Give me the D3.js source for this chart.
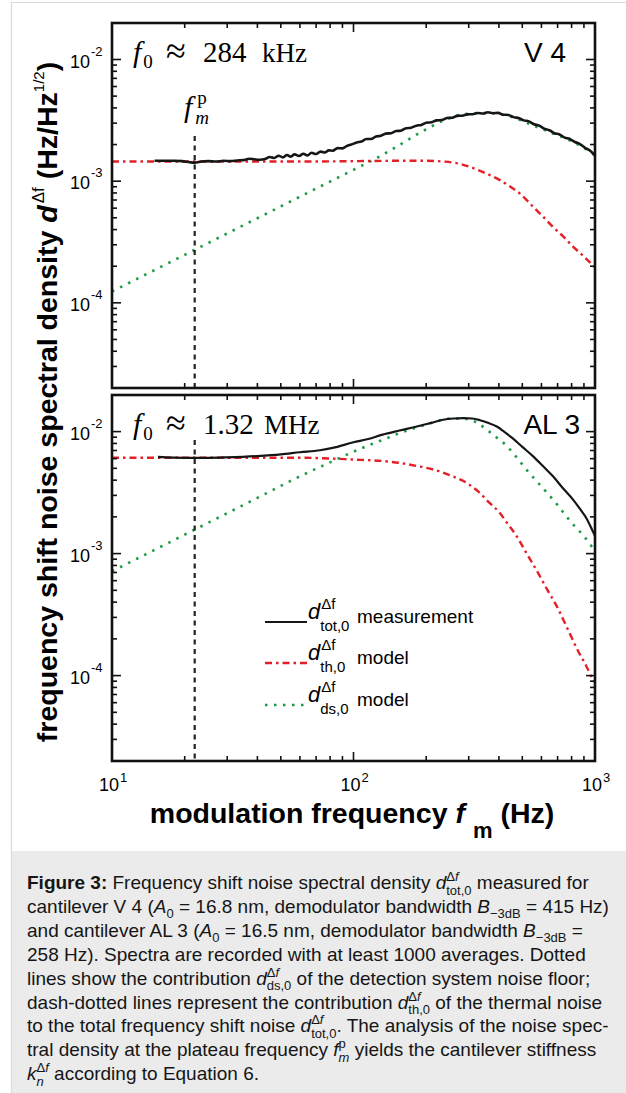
<!DOCTYPE html>
<html>
<head>
<meta charset="utf-8">
<script src="https://cdn.jsdelivr.net/npm/d3@7"></script>
<style>
  body { margin: 0; background: #fff; }
  svg { display: block; }
  text { white-space: pre; }
</style>
</head>
<body>
<svg width="626" height="1093"></svg>
<script>
// x axis: modulation frequency (Hz), y axis: noise density (Hz/Hz^1/2)
const xMajor = [10, 100, 1000]
const xMajorLabels = ['1', '2', '3']
const yMajor = [1e-4, 1e-3, 1e-2]
const yMajorLabels = ['-4', '-3', '-2']
const plateauFreq = 22

// cantilever V 4
const v4MeasFreq = [15, 16.5, 18, 19.5, 21, 22, 23.5, 25, 27, 29, 31, 33, 35, 37, 39, 41, 43, 45, 47, 49, 51, 53, 55, 57, 59.5, 62, 64.5, 67, 70, 73, 76, 79, 82, 86, 90, 94, 98, 103, 108, 113, 118, 124, 130, 136, 143, 150, 157, 165, 173, 182, 191, 200, 210, 221, 232, 244, 256, 269, 282, 296, 311, 327, 343, 360, 378, 397, 417, 438, 460, 483, 507, 532, 559, 587, 616, 647, 679, 713, 749, 786, 825, 866, 909, 955, 1000]
const v4MeasVal = [1.47e-3, 1.47e-3, 1.47e-3, 1.46e-3, 1.43e-3, 1.42e-3, 1.45e-3, 1.46e-3, 1.45e-3, 1.47e-3, 1.46e-3, 1.48e-3, 1.49e-3, 1.53e-3, 1.51e-3, 1.50e-3, 1.52e-3, 1.58e-3, 1.55e-3, 1.62e-3, 1.57e-3, 1.64e-3, 1.59e-3, 1.66e-3, 1.61e-3, 1.68e-3, 1.63e-3, 1.71e-3, 1.67e-3, 1.75e-3, 1.72e-3, 1.79e-3, 1.78e-3, 1.87e-3, 1.86e-3, 1.95e-3, 2.00e-3, 2.08e-3, 2.12e-3, 2.22e-3, 2.22e-3, 2.33e-3, 2.36e-3, 2.46e-3, 2.48e-3, 2.58e-3, 2.60e-3, 2.72e-3, 2.75e-3, 2.86e-3, 2.90e-3, 3.02e-3, 3.05e-3, 3.16e-3, 3.18e-3, 3.30e-3, 3.32e-3, 3.44e-3, 3.45e-3, 3.54e-3, 3.55e-3, 3.63e-3, 3.60e-3, 3.68e-3, 3.62e-3, 3.64e-3, 3.52e-3, 3.50e-3, 3.36e-3, 3.30e-3, 3.16e-3, 3.10e-3, 2.94e-3, 2.86e-3, 2.70e-3, 2.62e-3, 2.48e-3, 2.42e-3, 2.28e-3, 2.22e-3, 2.10e-3, 2.02e-3, 1.88e-3, 1.78e-3, 1.62e-3]
const v4ThFreq = [10, 30, 60, 100, 150, 200, 235, 270, 303, 350, 404, 450, 489, 553, 610, 670, 740, 811, 900, 1000]
const v4ThVal = [1.45e-3, 1.45e-3, 1.45e-3, 1.46e-3, 1.47e-3, 1.47e-3, 1.45e-3, 1.40e-3, 1.31e-3, 1.17e-3, 1.02e-3, 8.9e-4, 7.9e-4, 6.2e-4, 5.1e-4, 4.2e-4, 3.5e-4, 2.9e-4, 2.4e-4, 1.95e-4]
const v4DsFreq = [10, 20, 40, 70, 100, 130, 156, 185, 214, 240, 267, 300, 334, 370, 404, 440, 474, 510, 553, 610, 670, 740, 811, 900, 980, 1000]
const v4DsVal = [1.24e-4, 2.48e-4, 4.96e-4, 8.7e-4, 1.24e-3, 1.62e-3, 2.0e-3, 2.45e-3, 2.87e-3, 3.2e-3, 3.45e-3, 3.58e-3, 3.63e-3, 3.62e-3, 3.55e-3, 3.42e-3, 3.27e-3, 3.08e-3, 2.87e-3, 2.66e-3, 2.46e-3, 2.28e-3, 2.10e-3, 1.88e-3, 1.68e-3, 1.62e-3]

// cantilever AL 3
const al3MeasFreq = [15.5, 20, 25, 30, 40, 50, 60, 72.6, 82, 100, 115, 132, 155, 183, 210, 235, 260, 285, 310, 334, 360, 392, 420, 454, 500, 553, 610, 670, 740, 811, 870, 920, 980, 1000]
const al3MeasVal = [6.2e-3, 6.1e-3, 6.1e-3, 6.15e-3, 6.3e-3, 6.5e-3, 6.77e-3, 7.03e-3, 7.35e-3, 8.18e-3, 8.7e-3, 9.45e-3, 1.02e-2, 1.1e-2, 1.18e-2, 1.25e-2, 1.28e-2, 1.29e-2, 1.28e-2, 1.24e-2, 1.18e-2, 1.1e-2, 1.0e-2, 8.87e-3, 7.5e-3, 6.3e-3, 5.2e-3, 4.3e-3, 3.4e-3, 2.77e-3, 2.3e-3, 1.96e-3, 1.52e-3, 1.4e-3]
const al3ThFreq = [10, 30, 60, 100, 130, 156, 185, 214, 250, 294, 330, 366, 400, 432, 475, 520, 575, 634, 700, 761, 850, 920, 980, 1000]
const al3ThVal = [6.1e-3, 6.1e-3, 6.1e-3, 5.9e-3, 5.75e-3, 5.53e-3, 5.2e-3, 4.89e-3, 4.4e-3, 3.8e-3, 3.2e-3, 2.6e-3, 2.2e-3, 1.79e-3, 1.38e-3, 1.01e-3, 7.2e-4, 5.07e-4, 3.6e-4, 2.54e-4, 1.6e-4, 1.2e-4, 9.3e-5, 8.8e-5]
const al3DsFreq = [10, 20, 40, 60, 80, 91, 113, 135, 156, 185, 214, 251, 294, 325, 356, 390, 432, 475, 520, 575, 634, 700, 761, 830, 900, 980, 1000]
const al3DsVal = [7.16e-4, 1.43e-3, 2.86e-3, 4.3e-3, 5.6e-3, 6.3e-3, 7.58e-3, 8.7e-3, 9.76e-3, 1.09e-2, 1.19e-2, 1.28e-2, 1.27e-2, 1.18e-2, 1.04e-2, 9.0e-3, 7.6e-3, 6.1e-3, 4.88e-3, 3.9e-3, 3.14e-3, 2.5e-3, 2.02e-3, 1.65e-3, 1.39e-3, 1.11e-3, 1.05e-3]

const sans = 'Liberation Sans, Arial, Helvetica, sans-serif'
const serif = 'Liberation Serif, Times New Roman, serif'
const colMeas = '#161616'
const colTh = '#e41f26'
const colDs = '#1e9a47'
const dashTh = '7,4,2.5,4'
const dashDs = '2.5,6.5'

const svg = d3.select('svg')
const W = +svg.attr('width')
const H = +svg.attr('height')

svg.append('rect').attr('width', W).attr('height', H).attr('fill', '#fff')
svg.append('rect').attr('x', 11).attr('y', 851).attr('width', W - 11).attr('height', H - 851).attr('fill', '#ebebeb')
svg.append('path').attr('d', `M11.5,${H} V2.5 H${W}`).attr('fill', 'none').attr('stroke', '#dadada').attr('stroke-width', 1.2)

// rich text: parts placed one after another, sup/sub stacked
function rich(parent, x, y, parts, base) {
  const g = parent.append('g')
  let cx = x, anchor = x, supEnd = x, prev = null, stacked = false
  parts.forEach(p => {
    if (p.pos === 'sup' && prev !== 'sup') anchor = cx
    if (p.pos === 'sub' && prev === 'sup') { supEnd = cx; cx = anchor; stacked = true }
    if (p.pos !== 'sub' && stacked) { cx = Math.max(cx, supEnd); stacked = false }
    cx += p.dx || 0
    if (p.ax !== undefined) cx = p.ax
    const size = p.size || (p.pos ? base.small : base.size)
    const dy = p.pos === 'sup' ? -base.up : p.pos === 'sub' ? base.down : 0
    const t = g.append('text')
      .attr('x', cx).attr('y', y + dy + (p.dy || 0))
      .attr('font-family', p.family || base.family)
      .attr('font-size', size)
      .attr('font-weight', p.bold ? 'bold' : 'normal')
      .attr('font-style', p.italic ? 'italic' : 'normal')
      .attr('fill', base.fill || '#000')
      .text(p.t)
    cx += t.node().getComputedTextLength()
    prev = p.pos || null
  })
  if (stacked) cx = Math.max(cx, supEnd)
  g.width = cx - x
  return g
}
const N = t => ({ t })
const B = t => ({ t, bold: true })
const I = t => ({ t, italic: true })
const sup = (t, o) => Object.assign({ t, pos: 'sup' }, o)
const sub = (t, o) => Object.assign({ t, pos: 'sub' }, o)

const x = d3.scaleLog().domain([10, 1000]).range([112, 595])

const panels = [
  { top: 23, bottom: 388, meas: [v4MeasFreq, v4MeasVal], th: [v4ThFreq, v4ThVal], ds: [v4DsFreq, v4DsVal],
    f0: '284', f0unit: 'kHz', unitX: 262, name: 'V 4', nameX: 566, vTop: 136 },
  { top: 395, bottom: 761, meas: [al3MeasFreq, al3MeasVal], th: [al3ThFreq, al3ThVal], ds: [al3DsFreq, al3DsVal],
    f0: '1.32', f0unit: 'MHz', unitX: 264, name: 'AL 3', nameX: 580, vTop: 440 }
]

panels.forEach((p, pi) => {
  const y = d3.scaleLog().domain([10 ** -4.7, 10 ** -1.7]).range([p.bottom, p.top])
  const g = svg.append('g')
  const clipId = 'clip' + pi
  g.append('clipPath').attr('id', clipId).append('rect')
    .attr('x', 112).attr('y', p.top).attr('width', 595 - 112).attr('height', p.bottom - p.top)

  const line = d3.line().x(d => x(d[0])).y(d => y(d[1])).curve(d3.curveMonotoneX)
  const zip = s => s[0].map((f, i) => [f, s[1][i]])
  const plot = g.append('g').attr('clip-path', `url(#${clipId})`)

  plot.append('path').attr('d', line(zip(p.ds))).attr('fill', 'none')
    .attr('stroke', colDs).attr('stroke-width', 2.6).attr('stroke-dasharray', dashDs)
  plot.append('path').attr('d', line(zip(p.th))).attr('fill', 'none')
    .attr('stroke', colTh).attr('stroke-width', 2.4).attr('stroke-dasharray', dashTh)
  plot.append('path').attr('d', line(zip(p.meas))).attr('fill', 'none')
    .attr('stroke', colMeas).attr('stroke-width', pi === 0 ? 2.6 : 2.2).attr('stroke-linejoin', 'round')

  // plateau frequency marker
  g.append('line').attr('x1', x(plateauFreq)).attr('x2', x(plateauFreq))
    .attr('y1', p.vTop).attr('y2', p.bottom)
    .attr('stroke', '#222').attr('stroke-width', 2.2).attr('stroke-dasharray', '5,4.5')

  // ticks inward on all four sides
  const xTicks = []
  const yTicks = []
  for (let e = 1; e <= 3; e++) for (let k = 1; k <= 9; k++) {
    const v = k * 10 ** e
    if (v >= 10 && v <= 1000) xTicks.push([v, k === 1])
  }
  for (let e = -5; e <= -1; e++) for (let k = 1; k <= 9; k++) {
    const v = k * 10 ** e
    if (y(v) >= p.top && y(v) <= p.bottom) yTicks.push([v, k === 1])
  }
  const tk = g.append('g').attr('stroke', '#111').attr('stroke-width', 1.6)
  xTicks.forEach(([v, major]) => {
    const L = major ? 9 : 5
    tk.append('line').attr('x1', x(v)).attr('x2', x(v)).attr('y1', p.bottom).attr('y2', p.bottom - L)
    tk.append('line').attr('x1', x(v)).attr('x2', x(v)).attr('y1', p.top).attr('y2', p.top + L)
  })
  yTicks.forEach(([v, major]) => {
    const L = major ? 9 : 5
    tk.append('line').attr('x1', 112).attr('x2', 112 + L).attr('y1', y(v)).attr('y2', y(v))
    tk.append('line').attr('x1', 595).attr('x2', 595 - L).attr('y1', y(v)).attr('y2', y(v))
  })

  g.append('rect').attr('x', 112).attr('y', p.top).attr('width', 595 - 112).attr('height', p.bottom - p.top)
    .attr('fill', 'none').attr('stroke', '#111').attr('stroke-width', 2.6)

  // y tick labels
  yMajor.forEach((v, i) => {
    g.append('text').attr('x', 90).attr('y', y(v) + 8).attr('text-anchor', 'end')
      .attr('font-family', sans).attr('font-size', 18).text('10')
    g.append('text').attr('x', 91).attr('y', y(v) - 4)
      .attr('font-family', sans).attr('font-size', 13).text(yMajorLabels[i])
  })

  // f0 annotation
  const fb = { family: serif, size: 29, small: 19, up: 12, down: 6 }
  rich(g, 133, p.top + 39, [
    { t: 'f', italic: true, size: 30 },
    sub('0', { dx: 2 }),
    { t: '≈', ax: 166, size: 36, dy: 1 },
    { t: p.f0, ax: 203 },
    { t: p.f0unit, ax: p.unitX, size: 27 }
  ], fb)

  g.append('text').attr('x', p.nameX).attr('y', p.top + 39).attr('text-anchor', 'end')
    .attr('font-family', sans).attr('font-size', 28).text(p.name)

  if (pi === 0) {
    rich(g, 184, 117, [
      { t: 'f', italic: true },
      sup('p', { dx: 5 }),
      sub('m', { italic: true, dx: 3 })
    ], { family: serif, size: 30, small: 19, up: 13, down: 7 })
  } else {
    // x tick labels
    xMajor.forEach((v, i) => {
      g.append('text').attr('x', x(v) - 3).attr('y', 791).attr('text-anchor', 'middle')
        .attr('font-family', sans).attr('font-size', 18).text('10')
      g.append('text').attr('x', x(v) + 8).attr('y', 782)
        .attr('font-family', sans).attr('font-size', 13).text(xMajorLabels[i])
    })

    // legend
    const legend = [
      { color: colMeas, dash: null, sub: 'tot,0', label: 'measurement', y: 622, lx: 357 },
      { color: colTh, dash: dashTh, sub: 'th,0', label: 'model', y: 663, lx: 352 },
      { color: colDs, dash: dashDs, sub: 'ds,0', label: 'model', y: 705, lx: 354 }
    ]
    legend.forEach(l => {
      g.append('line').attr('x1', 265).attr('x2', 307).attr('y1', l.y).attr('y2', l.y)
        .attr('stroke', l.color).attr('stroke-width', l.dash ? 2.4 : 2.2)
        .attr('stroke-dasharray', l.dash)
      rich(g, 308, l.y - 3, [
        { t: 'd', italic: true },
        sup('Δf', { dx: 1 }),
        sub(l.sub, { dx: 0 }),
        { t: l.label, ax: Math.max(l.lx, 357), dy: 4, size: 19 }
      ], { family: sans, size: 22, small: 15, up: 10, down: 12 })
    })
  }
})

// axis titles
const yt = svg.append('g').attr('transform', 'translate(57,402) rotate(-90)')
const ytText = rich(yt, 0, 0, [
  B('frequency shift noise spectral density '),
  { t: 'd', bold: true, italic: true },
  sup('Δf', { dx: 2 }),
  B(' (Hz/Hz'),
  sup('1/2', { size: 15 }),
  B(')')
], { family: sans, size: 28.5, small: 17, up: 13, down: 6 })
ytText.attr('transform', `translate(${-ytText.width / 2},0)`)

const xt = svg.append('g')
const xtText = rich(xt, 0, 823, [
  B('modulation frequency '),
  { t: 'f', bold: true, italic: true },
  sub('m', { bold: true, dx: 8, size: 22 }),
  B(' (Hz)')
], { family: sans, size: 28.5, small: 18, up: 12, down: 15 })
xtText.attr('transform', `translate(${352 - xtText.width / 2},0)`)

// caption
const cap = svg.append('g')
const capBase = { family: sans, size: 19, small: 13, up: 8, down: 5.5, fill: '#151515' }
const dSym = s => [I('d'), sup('Δ'), sup('f', { italic: true }), sub(s)]
const captionLines = [
  [B('Figure 3:'), N(' Frequency shift noise spectral density '), ...dSym('tot,0'), N(' measured for')],
  [N('cantilever V 4 ('), I('A'), sub('0'), N(' = 16.8 nm, demodulator bandwidth '), I('B'), sub('−3dB'), N(' = 415 Hz)')],
  [N('and cantilever AL 3 ('), I('A'), sub('0'), N(' = 16.5 nm, demodulator bandwidth '), I('B'), sub('−3dB'), N(' =')],
  [N('258 Hz). Spectra are recorded with at least 1000 averages. Dotted')],
  [N('lines show the contribution '), ...dSym('ds,0'), N(' of the detection system noise floor;')],
  [N('dash-dotted lines represent the contribution '), ...dSym('th,0'), N(' of the thermal noise')],
  [N('to the total frequency shift noise '), ...dSym('tot,0'), N('. The analysis of the noise spec-')],
  [N('tral density at the plateau frequency '), I('f'), sup('p'), sub('m', { italic: true }), N(' yields the cantilever stiffness')],
  [I('k'), sup('Δ'), sup('f', { italic: true }), sub('n', { italic: true }), N(' according to Equation 6.')]
]
captionLines.forEach((parts, i) => rich(cap, 27, 889 + i * 23.9, parts, capBase))
</script>
</body>
</html>
